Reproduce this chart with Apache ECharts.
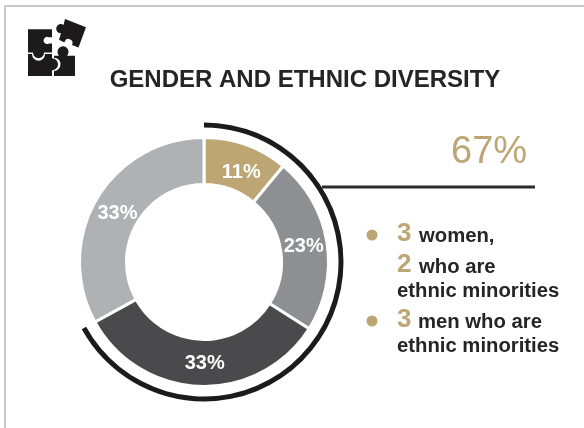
<!DOCTYPE html>
<html>
<head>
<meta charset="utf-8">
<title>Gender and ethnic diversity</title>
<style>
  html, body { margin: 0; padding: 0; background: #fff; }
  #chart { width: 584px; height: 428px; }
</style>
<script src="https://cdn.jsdelivr.net/npm/echarts@6/dist/echarts.min.js"></script>
</head>
<body>
<div id="chart"></div>
<script>
// Board composition shares, clockwise from twelve o'clock
const categories = ['Women, not minorities', 'Women, ethnic minorities', 'Men, ethnic minorities', 'Other men'];
const shares = [11, 23, 33, 33];
const sliceColors = ['#bda673', '#8e8f93', '#4a4a4c', '#afb1b4'];
const labelNudges = [[2, 8], [-3, 1], [4, -2], [3, 4]];

// Outer arc marks the diverse portion of the board
const diverseShare = 67;
const otherShare = 33;

const titleText = 'GENDER AND ETHNIC DIVERSITY';
const calloutText = diverseShare + '%';

const GOLD = '#bda673';
const INK = '#262526';
const FONT = '"Liberation Sans", Arial, sans-serif';

// Jigsaw emblem: four interlocking pieces drawn as one compound path
const puzzleIcon =
  'M28 29H52V37H49A3.5 3.5 0 1 0 49 43H52V52H44A5.5 5.5 0 0 1 33 52H28Z' +
  'M28 53.5H32A6.5 6.5 0 0 0 45 53.5H52V57.5A6 6 0 0 1 52 69.5V75H28Z' +
  'M54 55H59A5.5 5.5 0 1 1 67 55H75V75H54V70A6.5 6.5 0 0 0 54 57Z' +
  'M65 19L86 27L78.5 47L72 44.5A4 4 0 1 0 64.5 42L59 39.5L61 33A4.5 4.5 0 1 1 63.5 25Z';

// Each text run: string, left edge, lower edge, emphasis flag
const noteRuns = [
  ['3', 397, 247, true], ['women,', 419, 246, false],
  ['2', 397, 278, true], ['who are', 419, 277, false],
  ['ethnic minorities', 397, 301, false],
  ['3', 397, 333, true], ['men who are', 418, 332, false],
  ['ethnic minorities', 397, 356, false]
];
const bulletRows = [235, 321];

function runElement(run) {
  const big = run[3];
  return {
    type: 'text',
    silent: true,
    x: run[1],
    y: run[2],
    style: {
      text: run[0],
      fill: big ? GOLD : INK,
      font: (big ? 'bold 26px ' : 'bold 20.3px ') + FONT,
      textAlign: 'left',
      textVerticalAlign: 'bottom'
    }
  };
}

const chart = echarts.init(document.getElementById('chart'), null, { renderer: 'canvas' });

chart.setOption({
  animation: false,
  backgroundColor: '#ffffff',
  title: {
    text: titleText,
    left: 300,
    top: 63,
    textAlign: 'center',
    textStyle: { color: INK, fontFamily: FONT, fontWeight: 'bold', fontSize: 24 }
  },
  graphic: [
    // Page frame along the top and left edges
    { type: 'rect', silent: true, shape: { x: 4, y: 5, width: 580, height: 2 }, style: { fill: '#c8c9cb' } },
    { type: 'rect', silent: true, shape: { x: 4, y: 5, width: 2, height: 423 }, style: { fill: '#c8c9cb' } },
    {
      type: 'line',
      silent: true,
      shape: { x1: 322, y1: 187, x2: 535, y2: 187 },
      style: { stroke: '#2c2a2b', lineWidth: 3 }
    },
    {
      type: 'text',
      silent: true,
      x: 451,
      y: 134,
      style: { text: calloutText, fill: GOLD, font: '38px ' + FONT, textAlign: 'left' }
    },
    ...bulletRows.map(function (cy) {
      return { type: 'circle', silent: true, shape: { cx: 372, cy: cy, r: 5.5 }, style: { fill: GOLD } };
    }),
    ...noteRuns.map(runElement)
  ],
  series: [
    {
      type: 'pie',
      silent: true,
      center: [204, 262],
      radius: [77.5, 124.5],
      startAngle: 90,
      clockwise: true,
      avoidLabelOverlap: false,
      itemStyle: { borderColor: '#ffffff', borderWidth: 3 },
      label: {
        show: true,
        position: 'inside',
        formatter: '{c}%',
        color: '#ffffff',
        fontFamily: FONT,
        fontSize: 20,
        fontWeight: 'bold'
      },
      labelLine: { show: false },
      data: categories.map(function (name, i) {
        return {
          name: name,
          value: shares[i],
          itemStyle: { color: sliceColors[i] },
          label: { offset: labelNudges[i] }
        };
      })
    },
    {
      type: 'pie',
      silent: true,
      center: [204, 262],
      radius: [134.5, 139.5],
      startAngle: 90,
      clockwise: true,
      label: { show: false },
      labelLine: { show: false },
      data: [
        { name: 'Diverse', value: diverseShare, itemStyle: { color: '#1c1a1b' } },
        { name: 'Rest', value: otherShare, itemStyle: { color: 'rgba(0,0,0,0)' } }
      ]
    },
    {
      type: 'custom',
      coordinateSystem: 'none',
      silent: true,
      data: [0],
      renderItem: function () {
        return {
          type: 'path',
          shape: { pathData: puzzleIcon, layout: 'cover', x: 28, y: 19, width: 58, height: 57 },
          style: { fill: '#1c1a1b' }
        };
      }
    }
  ]
});
</script>
</body>
</html>
